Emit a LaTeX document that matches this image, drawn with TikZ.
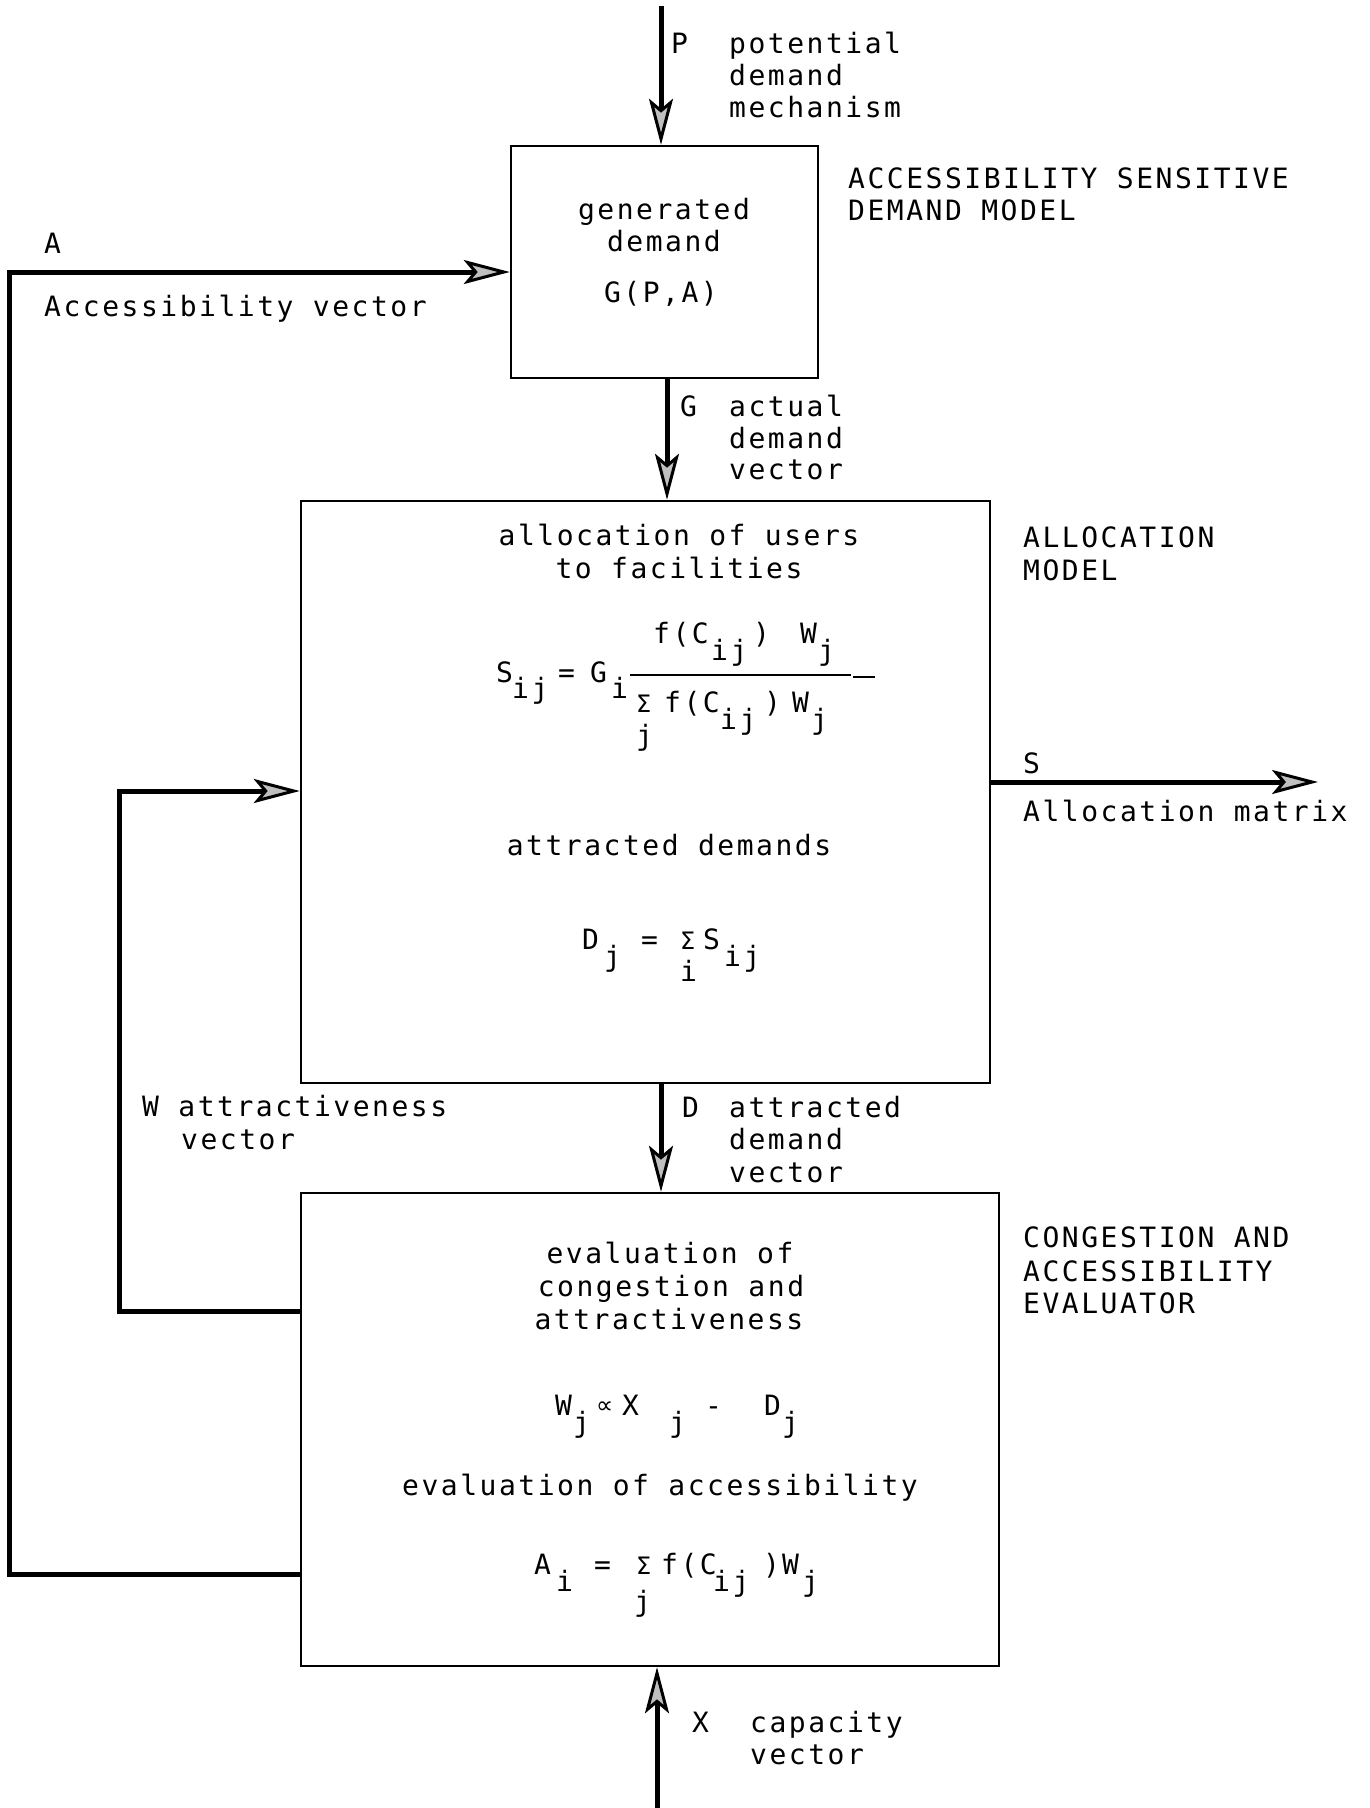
\documentclass[tikz,border=0pt]{standalone}
\usepackage{fontspec}
\usetikzlibrary{arrows.meta}
\newfontfamily\twf[LetterSpace=9]{DejaVu Sans Mono}
\newfontfamily\symf{DejaVu Sans}
\newcommand\tw{\twf\fontsize{28}{32}\selectfont}
\newcommand\smsym{\symf\fontsize{24}{26}\selectfont}
\begin{document}
\begin{tikzpicture}[x=1pt,y=-1pt,
  box/.style={draw, line width=2.5pt, rectangle, inner sep=0pt},
  conn/.style={line width=5pt, line join=miter},
  arr/.style={-{Stealth[fill=black!25, length=46pt, width=24pt, inset=10pt, line width=3pt]}},
  lbl/.style={font=\tw, inner sep=0pt, anchor=base west},
  ctr/.style={font=\tw, inner sep=0pt, anchor=base},
  sym/.style={font=\smsym, inner sep=0pt, anchor=base west}]
\useasboundingbox (0,0) rectangle (1370,1808);
\fill[white] (0,0) rectangle (1370,1808);
% boxes
\node[box, minimum width=307pt, minimum height=232pt] (b1) at (664.5,262) {};
\node[box, minimum width=689pt, minimum height=582pt] (b2) at (645.5,792) {};
\node[box, minimum width=698pt, minimum height=473pt] (b3) at (650,1429.5) {};
% coordinates
\coordinate (pTop) at (661,6);
\coordinate (gX) at (667,0);
\coordinate (dX) at (661,0);
\coordinate (xBot) at (657,1808);
\coordinate (aBot) at (9,1574);
\coordinate (aTop) at (9,272);
\coordinate (wBot) at (119,1311);
\coordinate (wTop) at (119,791);
\coordinate (sEnd) at (1318,782);
% connectors
\draw[conn, arr] (pTop) -- (pTop |- b1.north);
\draw[conn, arr] (b1.south -| gX) -- (b2.north -| gX);
\draw[conn, arr] (b2.south -| dX) -- (b3.north -| dX);
\draw[conn, arr] (xBot) -- (xBot |- b3.south);
\draw[conn, arr] (b3.west |- aBot) -- (aBot) -- (aTop) -- (b1.west |- aTop);
\draw[conn, arr] (b3.west |- wBot) -- (wBot) -- (wTop) -- (b2.west |- wTop);
\draw[conn, arr] (b2.east |- sEnd) -- (sEnd);
% top labels
\node[lbl] (tP) at (671,53) {P};
\node[lbl] (tP1) at (729,53) {potential};
\node[lbl] (tP2) at (729,85) {demand};
\node[lbl] (tP3) at (729,117) {mechanism};
\node[lbl] (m1a) at (848,188) {ACCESSIBILITY SENSITIVE};
\node[lbl] (m1b) at (848,220) {DEMAND MODEL};
\node[ctr] (g1) at (664,219) {generated};
\node[ctr] (g2) at (664,251) {demand};
\node[ctr] (g3) at (661,302) {G(P,A)};
\node[lbl] (tA) at (44,253) {A};
\node[lbl] (tA1) at (44,316) {Accessibility vector};
\node[lbl] (tG) at (680,416) {G};
\node[lbl] (tG1) at (729,416) {actual};
\node[lbl] (tG2) at (729,448) {demand};
\node[lbl] (tG3) at (729,479) {vector};
% allocation box
\node[ctr] (al1) at (679,545) {allocation of users};
\node[ctr] (al2) at (679,578) {to facilities};
\node[lbl] (m2a) at (1023,547) {ALLOCATION};
\node[lbl] (m2b) at (1023,580) {MODEL};
% formula S
\node[lbl] (s1) at (496,682) {S};
\node[lbl] (s2) at (512,698) {ij};
\node[lbl] (s3) at (558,682) {=};
\node[lbl] (s4) at (590,682) {G};
\node[lbl] (s5) at (611,698) {i};
\node[lbl] (n1) at (653,643) {f(C};
\node[lbl] (n2) at (711,660) {ij};
\node[lbl] (n3) at (753,643) {)};
\node[lbl] (n4) at (800,643) {W};
\node[lbl] (n5) at (818,660) {j};
\draw[line width=2.5pt] (630,675) -- (851,675);
\draw[line width=2.5pt] (853,677) -- (875,677);
\node[sym] (d1) at (636,712) {Σ};
\node[lbl] (d2) at (636,745) {j};
\node[lbl] (d3) at (664,712) {f(C};
\node[lbl] (d4) at (720,729) {ij};
\node[lbl] (d5) at (764,712) {)};
\node[lbl] (d6) at (792,712) {W};
\node[lbl] (d7) at (811,729) {j};
\node[lbl] (tS) at (1023,773) {S};
\node[lbl] (tS1) at (1023,821) {Allocation matrix};
\node[ctr] (ad) at (669,855) {attracted demands};
% formula D
\node[lbl] (e1) at (582,949) {D};
\node[lbl] (e2) at (604,966) {j};
\node[lbl] (e3) at (641,949) {=};
\node[sym] (e4) at (680,949) {Σ};
\node[lbl] (e5) at (680,981) {i};
\node[lbl] (e6) at (703,949) {S};
\node[lbl] (e7) at (724,966) {ij};
% W and D labels
\node[lbl] (tW) at (142,1116) {W attractiveness};
\node[lbl] (tW1) at (181,1149) {vector};
\node[lbl] (tD) at (682,1117) {D};
\node[lbl] (tD1) at (729,1117) {attracted};
\node[lbl] (tD2) at (729,1149) {demand};
\node[lbl] (tD3) at (729,1182) {vector};
% evaluator
\node[lbl] (m3a) at (1023,1247) {CONGESTION AND};
\node[lbl] (m3b) at (1023,1281) {ACCESSIBILITY};
\node[lbl] (m3c) at (1023,1313) {EVALUATOR};
\node[ctr] (ev1) at (670,1263) {evaluation of};
\node[ctr] (ev2) at (671,1296) {congestion and};
\node[ctr] (ev3) at (669,1329) {attractiveness};
\node[lbl] (w1) at (555,1415) {W};
\node[lbl] (w2) at (573,1432) {j};
\node[sym] (w3) at (596,1413) {∝};
\node[lbl] (w4) at (622,1415) {X};
\node[lbl] (w5) at (669,1432) {j};
\node[lbl] (w6) at (705,1415) {-};
\node[lbl] (w7) at (764,1415) {D};
\node[lbl] (w8) at (782,1432) {j};
\node[ctr] (ev4) at (660,1495) {evaluation of accessibility};
\node[lbl] (a1) at (534,1574) {A};
\node[lbl] (a2) at (556,1591) {i};
\node[lbl] (a3) at (594,1574) {=};
\node[sym] (a4) at (636,1574) {Σ};
\node[lbl] (a5) at (634,1611) {j};
\node[lbl] (a6) at (661,1574) {f(C};
\node[lbl] (a7) at (713,1591) {ij};
\node[lbl] (a8) at (763,1574) {)};
\node[lbl] (a9) at (782,1574) {W};
\node[lbl] (a10) at (802,1591) {j};
% capacity
\node[lbl] (tX) at (692,1732) {X};
\node[lbl] (tX1) at (750,1732) {capacity};
\node[lbl] (tX2) at (750,1764) {vector};
\end{tikzpicture}
\end{document}
